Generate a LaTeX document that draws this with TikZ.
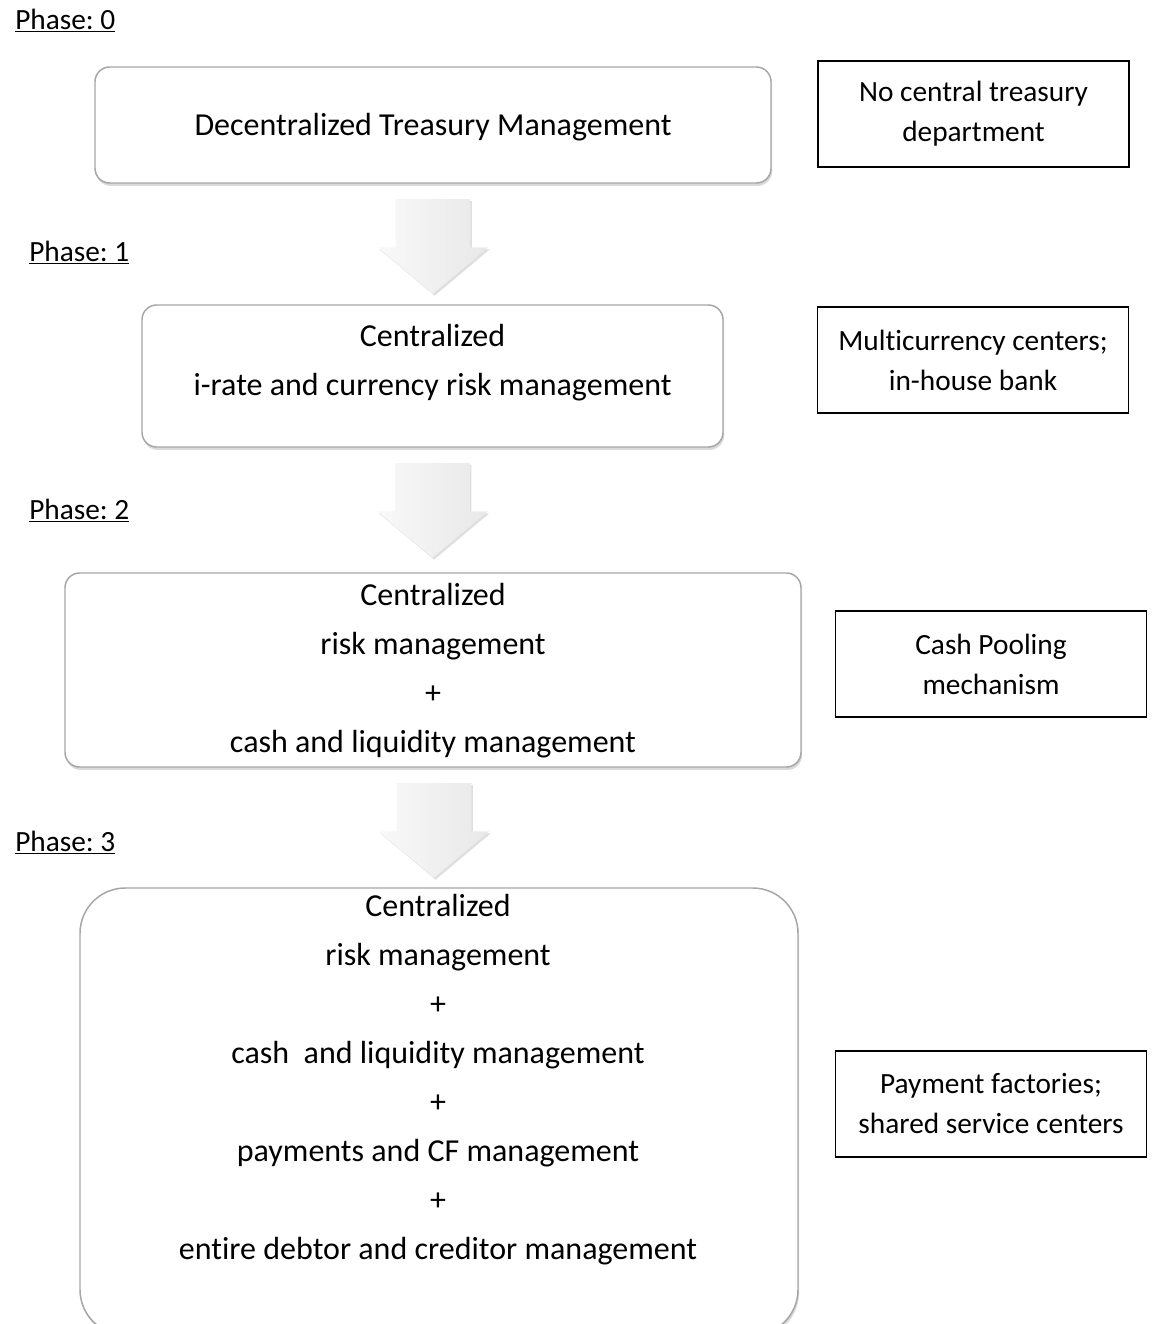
\documentclass[tikz,border=0pt]{standalone}
\usepackage{fontspec}
\setmainfont{Carlito}[Ligatures=NoCommon]
\usetikzlibrary{shapes.arrows,shadows,calc}
\frenchspacing

\begin{document}
\begin{tikzpicture}[x=0.75pt,y=-0.75pt,
        phasebox/.style={draw=gray!70, line width=1.1pt, fill=white, rounded corners=11pt,
            drop shadow={shadow xshift=0.8pt, shadow yshift=-2.2pt, opacity=0.3}},
        phasetext/.style={align=center, font=\fontsize{24}{36.75}\selectfont},
        notebox/.style={draw=black, line width=1pt, align=center, minimum width=233.25pt,
            minimum height=79.5pt, font=\fontsize{22}{30}\selectfont},
        downarrow/.style={single arrow, rotate=-90, anchor=tail, draw=none, left color=gray!5, right color=gray!18,
            minimum height=71pt, minimum width=82.5pt, single arrow head extend=13.5pt,
            single arrow tip angle=100, inner xsep=0pt, inner ysep=27.75pt,
            drop shadow={shadow xshift=1.2pt, shadow yshift=-1.5pt, opacity=0.25}},
        phaselabel/.style={anchor=base west, inner sep=0pt, font=\fontsize{22}{28}\selectfont}]
    \useasboundingbox (0,0) rectangle (1154,1324);

    % phase labels
    \node[phaselabel] (ph0) at (15,29) {\underline{Phase: 0}};
    \node[phaselabel] (ph1) at (29,261) {\underline{Phase: 1}};
    \node[phaselabel] (ph2) at (29,519) {\underline{Phase: 2}};
    \node[phaselabel] (ph3) at (15,851) {\underline{Phase: 3}};

    % phase boxes
    \node[phasebox, minimum width=507pt, minimum height=87pt] (p0) at (433,125) {};
    \node[phasetext] (p0txt) at (433,127) {Decentralized Treasury Management};
    \node[phasebox, minimum width=435.75pt, minimum height=106.5pt] (p1) at (432.5,376) {};
    \node[phasetext] (p1txt) at (432.5,363) {Centralized\\i-rate and currency risk management};
    \node[phasebox, minimum width=552pt, minimum height=145.5pt] (p2) at (433,670) {};
    \node[phasetext] (p2txt) at (433,671)
        {Centralized\\risk management\\+\\cash and liquidity management};
    \node[phasebox, rounded corners=34pt, minimum width=538.5pt, minimum height=335.25pt] (p3) at (439,1111.5) {};
    \node[phasetext] (p3txt) at (438,1080)
        {Centralized\\risk management\\+\\cash\ \ and liquidity management\\+\\payments and CF management\\+\\entire debtor and creditor management};

    % block arrows between phases
    \node[downarrow] (a1) at ($(p0.south)+(0,15)$) {};
    \node[downarrow] (a2) at ($(p1.south)+(0,15)$) {};
    \node[downarrow] (a3) at ($(p2.south)+(1,15)$) {};

    % notes
    \node[notebox] (n0) at (973.5,114) {No central treasury\\department};
    \node[notebox] (n1) at (973,360) {Multicurrency centers;\\in-house bank};
    \node[notebox] (n2) at (991,664) {Cash Pooling\\mechanism};
    \node[notebox] (n3) at (991,1104) {Payment factories;\\shared service centers};
\end{tikzpicture}
\end{document}
